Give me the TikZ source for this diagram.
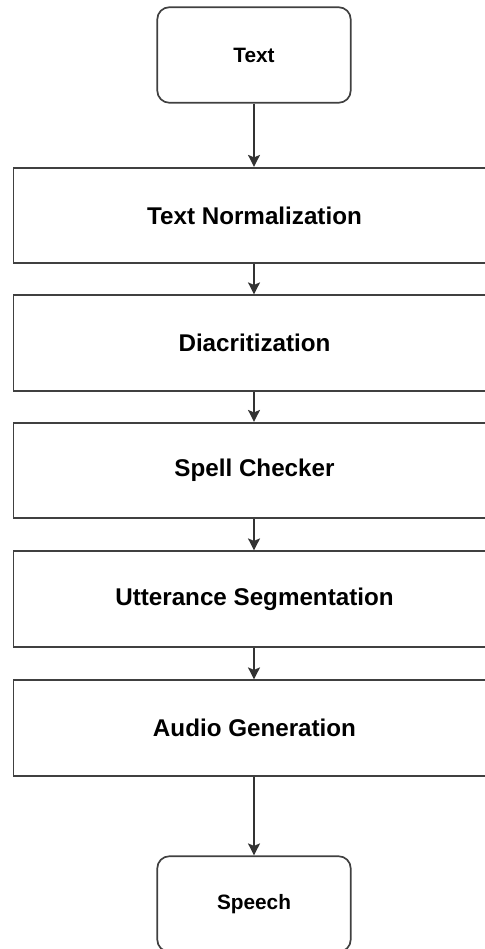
\documentclass[tikz,border=0pt]{standalone}
\usepackage{fontspec}
\setmainfont{Liberation Sans}
\usetikzlibrary{arrows.meta}
\begin{document}
\begin{tikzpicture}[x=1pt,y=-1pt,
  bigbox/.style={draw=black!75,line width=1.7pt,minimum width=482pt,minimum height=95.5pt,inner sep=0pt,font=\fontsize{24.2}{28}\selectfont\bfseries},
  endbox/.style={draw=black!75,line width=1.7pt,rounded corners=12pt,minimum width=193.4pt,minimum height=95.5pt,inner sep=0pt,font=\fontsize{20.8}{25}\selectfont\bfseries},
  flow/.style={draw=black!80,line width=1.6pt,-{Stealth[length=12pt,width=12pt,inset=2.5pt]}}]
\useasboundingbox (0,0) rectangle (484,949);
\node[endbox] (text) at (254,55) {Text};
\node[bigbox] (norm) at (254.5,215.5) {Text Normalization};
\node[bigbox] (diac) at (254.5,343) {Diacritization};
\node[bigbox] (spell) at (254.5,470.5) {Spell Checker};
\node[bigbox] (utt) at (254.5,599) {Utterance Segmentation};
\node[bigbox] (audio) at (254.5,728) {Audio Generation};
\node[endbox] (speech) at (254,904) {Speech};
\draw[flow] (text.south) -- (text.south |- norm.north);
\draw[flow] (text.south |- norm.south) -- (text.south |- diac.north);
\draw[flow] (text.south |- diac.south) -- (text.south |- spell.north);
\draw[flow] (text.south |- spell.south) -- (text.south |- utt.north);
\draw[flow] (text.south |- utt.south) -- (text.south |- audio.north);
\draw[flow] (text.south |- audio.south) -- (speech.north);
\end{tikzpicture}
\end{document}
